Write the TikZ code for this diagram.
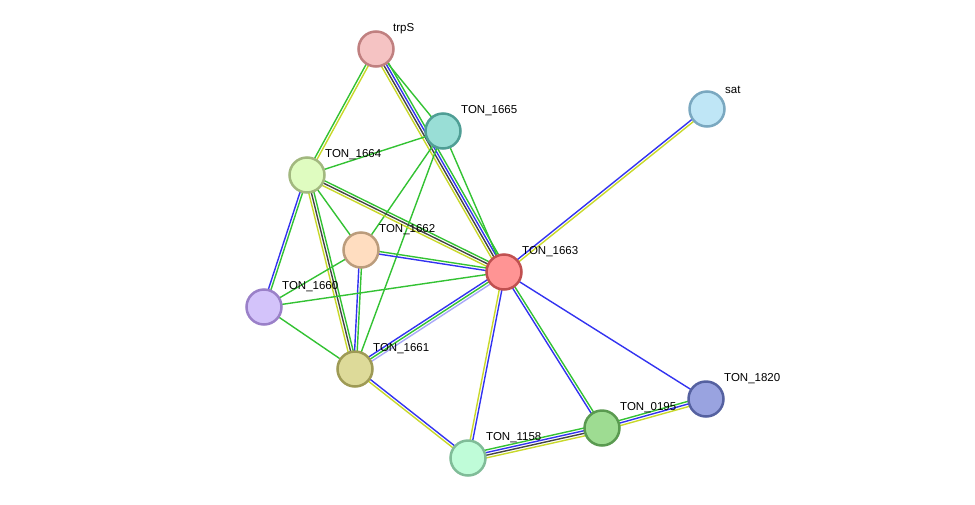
\documentclass[tikz,border=0pt]{standalone}
\usepackage{fontspec}
\setmainfont{Liberation Sans}
\usetikzlibrary{calc}
\definecolor{eg}{HTML}{33C233}
\definecolor{eb}{HTML}{3333F0}
\definecolor{ey}{HTML}{C8D82A}
\definecolor{ek}{HTML}{444444}
\definecolor{el}{HTML}{A8A8F8}
\newcommand\medge[4]{%
  \foreach \cc [count=\ii] in {#4}{%
    \pgfmathsetmacro\oo{(\ii-(#3+1)/2)*2.6}%
    \draw[edge,\cc] ($(#1)!\oo pt!90:(#2)$) -- ($(#2)!\oo pt!-90:(#1)$);
  }}
\tikzset{edge/.style={line width=1.4pt},
 prot/.style={circle,minimum size=35pt,inner sep=0pt,line width=2.5pt},
 lab/.style={font=\fontsize{11.5pt}{13pt}\selectfont,anchor=south west,inner sep=0pt}}
\begin{document}
\begin{tikzpicture}[x=1pt,y=-1pt]
\useasboundingbox (0,0) rectangle (975,504);
\coordinate (trpS) at (376,49);
\coordinate (n1665) at (443,131);
\coordinate (sat) at (707,109);
\coordinate (n1664) at (307,175);
\coordinate (n1662) at (361,250);
\coordinate (n1663) at (504,272);
\coordinate (n1660) at (264,307);
\coordinate (n1661) at (355,369);
\coordinate (n1820) at (706,399);
\coordinate (n0195) at (602,428);
\coordinate (n1158) at (468,458);
\medge{trpS}{n1664}{2}{eg,ey}
\medge{trpS}{n1665}{1}{eg}
\medge{trpS}{n1663}{4}{ey,ek,eb,eg}
\medge{n1665}{n1664}{1}{eg}
\medge{n1665}{n1662}{1}{eg}
\medge{n1665}{n1661}{1}{eg}
\medge{n1665}{n1663}{1}{eg}
\medge{n1664}{n1663}{3}{ey,ek,eg}
\medge{n1664}{n1662}{1}{eg}
\medge{n1664}{n1660}{2}{eb,eg}
\medge{n1664}{n1661}{3}{ey,ek,eg}
\medge{n1662}{n1663}{2}{eb,eg}
\medge{n1662}{n1660}{1}{eg}
\medge{n1662}{n1661}{2}{eb,eg}
\medge{n1660}{n1663}{1}{eg}
\medge{n1660}{n1661}{1}{eg}
\medge{n1661}{n1663}{3}{el,eg,eb}
\medge{n1661}{n1158}{2}{ey,eb}
\medge{n1663}{sat}{2}{ey,eb}
\medge{n1663}{n1158}{2}{ey,eb}
\medge{n1663}{n0195}{2}{eb,eg}
\medge{n1663}{n1820}{1}{eb}
\medge{n1158}{n0195}{4}{ey,ek,eb,eg}
\medge{n0195}{n1820}{3}{ey,eb,eg}
\node[prot,fill={rgb,255:red,245;green,195;blue,195},draw={rgb,255:red,192;green,128;blue,128}] (a) at (trpS) {};
\node[prot,fill={rgb,255:red,153;green,222;blue,214},draw={rgb,255:red,79;green,158;blue,149}] (b) at (n1665) {};
\node[prot,fill={rgb,255:red,191;green,230;blue,246},draw={rgb,255:red,122;green,168;blue,192}] (c) at (sat) {};
\node[prot,fill={rgb,255:red,223;green,252;blue,192},draw={rgb,255:red,162;green,184;blue,127}] (d) at (n1664) {};
\node[prot,fill={rgb,255:red,255;green,221;blue,192},draw={rgb,255:red,187;green,156;blue,124}] (e) at (n1662) {};
\node[prot,fill={rgb,255:red,255;green,148;blue,148},draw={rgb,255:red,192;green,80;blue,80}] (f) at (n1663) {};
\node[prot,fill={rgb,255:red,211;green,195;blue,250},draw={rgb,255:red,154;green,128;blue,200}] (g) at (n1660) {};
\node[prot,fill={rgb,255:red,221;green,218;blue,153},draw={rgb,255:red,158;green,154;blue,85}] (h) at (n1661) {};
\node[prot,fill={rgb,255:red,153;green,163;blue,224},draw={rgb,255:red,85;green,97;blue,160}] (i) at (n1820) {};
\node[prot,fill={rgb,255:red,158;green,220;blue,146},draw={rgb,255:red,90;green,154;blue,80}] (j) at (n0195) {};
\node[prot,fill={rgb,255:red,191;green,252;blue,216},draw={rgb,255:red,128;green,188;blue,152}] (k) at (n1158) {};
\node[lab] (la) at (393,34) {trpS};
\node[lab] (lb) at (461,116) {TON\_1665};
\node[lab] (lc) at (725,94) {sat};
\node[lab] (ld) at (325,160) {TON\_1664};
\node[lab] (le) at (379,235) {TON\_1662};
\node[lab] (lf) at (522,257) {TON\_1663};
\node[lab] (lg) at (282,292) {TON\_1660};
\node[lab] (lh) at (373,354) {TON\_1661};
\node[lab] (li) at (724,384) {TON\_1820};
\node[lab] (lj) at (620,413) {TON\_0195};
\node[lab] (lk) at (486,443) {TON\_1158};
\end{tikzpicture}
\end{document}
